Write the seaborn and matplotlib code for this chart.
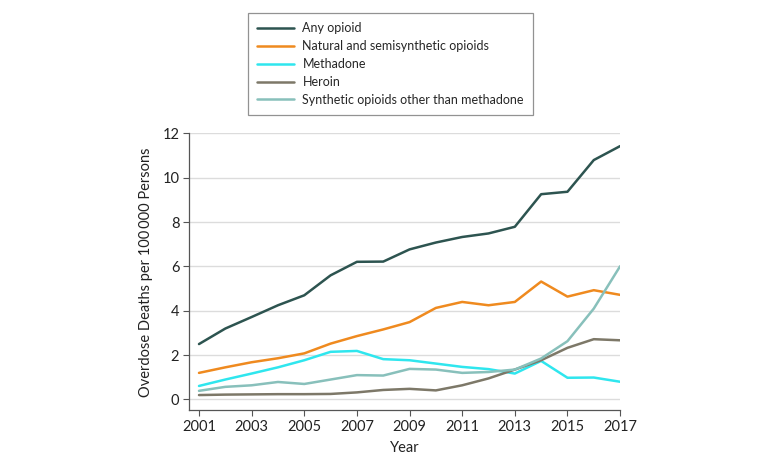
import matplotlib
matplotlib.use("Agg")
import matplotlib.pyplot as plt
import seaborn as sns
import pandas as pd

years = list(range(2001, 2018))
any_opioid = [2.5, 3.2, 3.72, 4.25, 4.7, 5.6, 6.21, 6.22, 6.77, 7.08, 7.33, 7.49, 7.79, 9.26, 9.37, 10.8, 11.43]
natural = [1.2, 1.45, 1.68, 1.86, 2.08, 2.52, 2.86, 3.16, 3.49, 4.13, 4.4, 4.25, 4.4, 5.32, 4.64, 4.93, 4.72]
methadone = [0.61, 0.9, 1.17, 1.45, 1.77, 2.15, 2.19, 1.82, 1.77, 1.62, 1.47, 1.37, 1.17, 1.74, 0.98, 0.99, 0.8]
heroin = [0.2, 0.22, 0.23, 0.24, 0.24, 0.25, 0.32, 0.43, 0.48, 0.41, 0.64, 0.95, 1.35, 1.77, 2.33, 2.72, 2.67]
synthetic = [0.39, 0.57, 0.64, 0.79, 0.7, 0.9, 1.1, 1.08, 1.38, 1.35, 1.2, 1.24, 1.35, 1.85, 2.63, 4.1, 6.01]

series_names = ["Any opioid", "Natural and semisynthetic opioids", "Methadone", "Heroin",
                "Synthetic opioids other than methadone"]
series_values = [any_opioid, natural, methadone, heroin, synthetic]
colors = ["#2d5450", "#ef8a1f", "#2fe6ee", "#7d7868", "#88c0bb"]
xticks = list(range(2001, 2018, 2))
yticks = [0, 2, 4, 6, 8, 10, 12]

rows = []
for name, vals in zip(series_names, series_values):
    for y, v in zip(years, vals):
        rows.append({"Year": y, "Value": v, "Series": name})
df = pd.DataFrame(rows)

sns.set_theme(style="white")
plt.rcParams['font.family'] = ['Lato', 'DejaVu Sans']

fig = plt.figure(figsize=(7.8, 4.65), dpi=100)
ax = fig.add_axes([0.2423, 0.118, 0.5527, 0.595])

sns.lineplot(data=df, x="Year", y="Value", hue="Series", hue_order=series_names,
             palette=colors, linewidth=1.8, ax=ax, legend=True)

ax.set_xlim(2000.62, 2017)
ax.set_ylim(-0.48, 12)
ax.set_xticks(xticks)
ax.set_xticklabels([str(t) for t in xticks])
ax.set_yticks(yticks)
ax.yaxis.grid(True, color="#dcdcdc", linewidth=1.0)
ax.set_axisbelow(True)
for s in ["top", "right"]:
    ax.spines[s].set_visible(False)
for s in ["left", "bottom"]:
    ax.spines[s].set_color("#555555")
    ax.spines[s].set_linewidth(0.9)
ax.tick_params(axis="both", which="major", length=4, width=0.8, color="#555555",
               labelsize=10.5, labelcolor="#222222", pad=3, bottom=True, left=True)
ax.set_xlabel("Year", fontsize=10.5, color="#222222", labelpad=5)
ax.set_ylabel("Overdose Deaths per 100\u2009000 Persons", fontsize=10.5, color="#222222", labelpad=7)

leg = ax.legend(loc="upper left", frameon=True, fancybox=False,
                fontsize=9.0, handlelength=2.95, handletextpad=0.65, borderpad=0.75,
                labelspacing=0.47, borderaxespad=0)
leg.get_frame().set_edgecolor("#777777")
leg.get_frame().set_linewidth(0.9)
leg.set_bbox_to_anchor((248 / 780, 1 - 13 / 465), transform=fig.transFigure)

fig.savefig("out.png", dpi=100)
